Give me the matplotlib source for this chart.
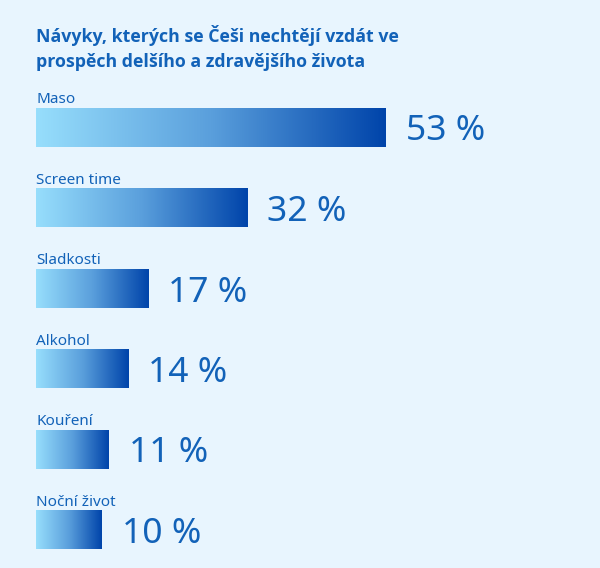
import numpy as np
import matplotlib
matplotlib.use("Agg")
import matplotlib.pyplot as plt
from matplotlib.colors import LinearSegmentedColormap

# Data
categories = ["Maso", "Screen time", "Sladkosti", "Alkohol", "Kouření", "Noční život"]
values = [53, 32, 17, 14, 11, 10]
value_labels = ["53 %", "32 %", "17 %", "14 %", "11 %", "10 %"]
title = "Návyky, kterých se Češi nechtějí vzdát ve\nprospěch delšího a zdravějšího života"

BG = "#e8f5fe"
TXT = "#1262b8"
cmap = LinearSegmentedColormap.from_list("g", ["#97defc", "#5a9fdc", "#0044aa"])

W, H = 600, 568
fig = plt.figure(figsize=(W / 100, H / 100), dpi=100, facecolor=BG)
ax = fig.add_axes([0, 0, 1, 1])
ax.set_facecolor(BG)
ax.axis("off")

s = 6.6          # px per percent
left_px = 36
y0_px, step_px = 127.5, 80.5
bar_h = 38.5 / step_px

grad = np.linspace(0, 1, 256).reshape(1, -1)
for i, (cat, v, lab) in enumerate(zip(categories, values, value_labels)):
    ax.imshow(grad, cmap=cmap, aspect="auto",
              extent=(0, v, i + bar_h / 2, i - bar_h / 2), zorder=2)
    ax.text(0, i - bar_h / 2 - 5 / step_px, cat, fontsize=11, color=TXT,
            family="Noto Sans", va="baseline", ha="left")
    ax.text(v + 20 / s, i + 4 / step_px, lab, fontsize=25.5, color=TXT,
            family="Noto Sans", va="center", ha="left")

ax.set_xlim(-left_px / s, (W - left_px) / s)
ax.set_ylim((H - y0_px) / step_px, -y0_px / step_px)

fig.text(36 / W, 1 - 25.5 / H, title, fontsize=12.8, fontweight="bold",
         color=TXT, family="Open Sans", va="top", ha="left",
         linespacing=1.45)

fig.savefig("out.png", dpi=100, facecolor=BG)
